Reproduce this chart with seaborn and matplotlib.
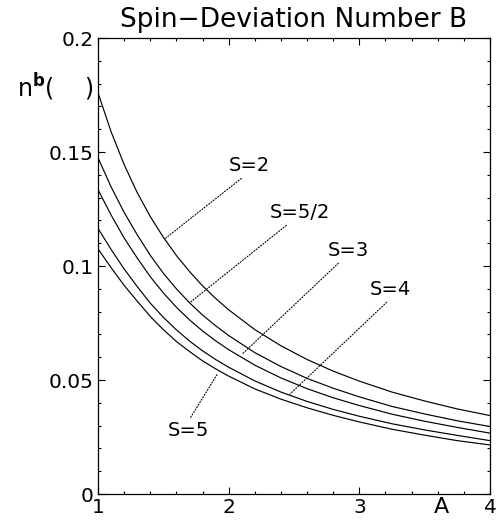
import numpy as np
import pandas as pd
import matplotlib
matplotlib.use('Agg')
import matplotlib.pyplot as plt
import seaborn as sns

# values
A = [1.0, 1.1, 1.2, 1.3, 1.4, 1.5, 1.6, 1.7, 1.8, 1.9, 2.0,
     2.2, 2.4, 2.6, 2.8, 3.0, 3.25, 3.5, 3.75, 4.0]
n_S2 = [0.1760, 0.1589, 0.1445, 0.1322, 0.1217, 0.1126, 0.1046, 0.0976, 0.0913, 0.0858, 0.0808,
        0.0721, 0.0650, 0.0590, 0.0539, 0.0495, 0.0447, 0.0408, 0.0373, 0.0344]
n_S52 = [0.1475, 0.1347, 0.1235, 0.1137, 0.1047, 0.0968, 0.0900, 0.0839, 0.0785, 0.0738, 0.0695,
         0.0620, 0.0559, 0.0507, 0.0464, 0.0426, 0.0384, 0.0351, 0.0321, 0.0296]
n_S3 = [0.1335, 0.1224, 0.1123, 0.1035, 0.0953, 0.0882, 0.0819, 0.0764, 0.0715, 0.0672, 0.0633,
        0.0565, 0.0509, 0.0462, 0.0422, 0.0388, 0.0350, 0.0319, 0.0292, 0.0267]
n_S4 = [0.1165, 0.1073, 0.0987, 0.0910, 0.0837, 0.0775, 0.0720, 0.0671, 0.0628, 0.0590, 0.0556,
        0.0496, 0.0447, 0.0406, 0.0371, 0.0341, 0.0308, 0.0281, 0.0257, 0.0234]
n_S5 = [0.1075, 0.0993, 0.0915, 0.0846, 0.0779, 0.0721, 0.0669, 0.0625, 0.0584, 0.0549, 0.0517,
        0.0461, 0.0416, 0.0378, 0.0345, 0.0316, 0.0284, 0.0258, 0.0234, 0.0215]
spins = ['S=2', 'S=5/2', 'S=3', 'S=4', 'S=5']

# label text position and the curve point the dotted leader goes to
label_pos = [(2.156, 0.144), (2.546, 0.1234), (2.913, 0.1068), (3.235, 0.0897), (1.689, 0.028)]
leader_end = [(1.513, 0.112), (1.704, 0.084), (2.11, 0.0617), (2.469, 0.0438), (1.918, 0.053)]
leader_rel = [(0.5, 0.15), (0.4, 0.15), (0.4, 0.1), (0.55, 0.1), (0.5, 0.95)]

yticks = [0, 0.05, 0.1, 0.15, 0.2]
ytick_labels = ['0', '0.05', '0.1', '0.15', '0.2']
xticks = [1, 2, 3, 4]

df = pd.DataFrame({
    'A': A * 5,
    'n': n_S2 + n_S52 + n_S3 + n_S4 + n_S5,
    'S': sum([[s] * len(A) for s in spins], []),
})

sns.set_theme(style='ticks')
plt.rcParams['font.family'] = ['DejaVu Sans']
plt.rcParams['mathtext.fontset'] = 'dejavusans'

fig = plt.figure(figsize=(5.04, 5.20), dpi=100)
ax = fig.add_axes([98 / 504, 26 / 520, 392 / 504, 456 / 520])

sns.lineplot(data=df, x='A', y='n', hue='S', palette=['black'] * 5,
             linewidth=0.85, legend=False, ax=ax, sort=False)

ax.set_xlim(1, 4)
ax.set_ylim(0, 0.2)
ax.set_xticks(xticks)
ax.set_xticklabels([str(t) for t in xticks])
ax.set_yticks(yticks)
ax.set_yticklabels(ytick_labels)
ax.set_xticks(np.arange(1, 4.01, 0.2), minor=True)
ax.set_yticks(np.arange(0, 0.2001, 0.01), minor=True)
ax.tick_params(which='both', direction='in', top=True, right=True,
               color='black', width=0.8, labelsize=14.5, labelcolor='black')
ax.tick_params(which='major', length=5, pad=3)
ax.tick_params(which='minor', length=2.5)
for sp in ax.spines.values():
    sp.set_visible(True)
    sp.set_color('black')
    sp.set_linewidth(0.9)
ax.set_xlabel('')
ax.set_ylabel('')

ax.set_title('Spin\u2212Deviation Number B', fontsize=19, pad=8, color='black')

# axis labels placed as in the original figure
fig.text(441 / 504, 3 / 520, 'A', fontsize=16, ha='center', va='bottom', color='black')
fig.text(17 / 504, 1 - 97 / 520, r'n$^{\mathbf{b}}$(    )', fontsize=17,
         ha='left', va='baseline', color='black')

for lab, pos, end, rel in zip(spins, label_pos, leader_end, leader_rel):
    ax.annotate(lab, xy=end, xytext=pos, ha='center', va='center',
                fontsize=14, color='black',
                arrowprops=dict(arrowstyle='-', color='black', lw=0.8,
                                linestyle=(0, (1, 1.6)), relpos=rel,
                                shrinkA=0, shrinkB=0))

fig.savefig('out.png', dpi=100)
